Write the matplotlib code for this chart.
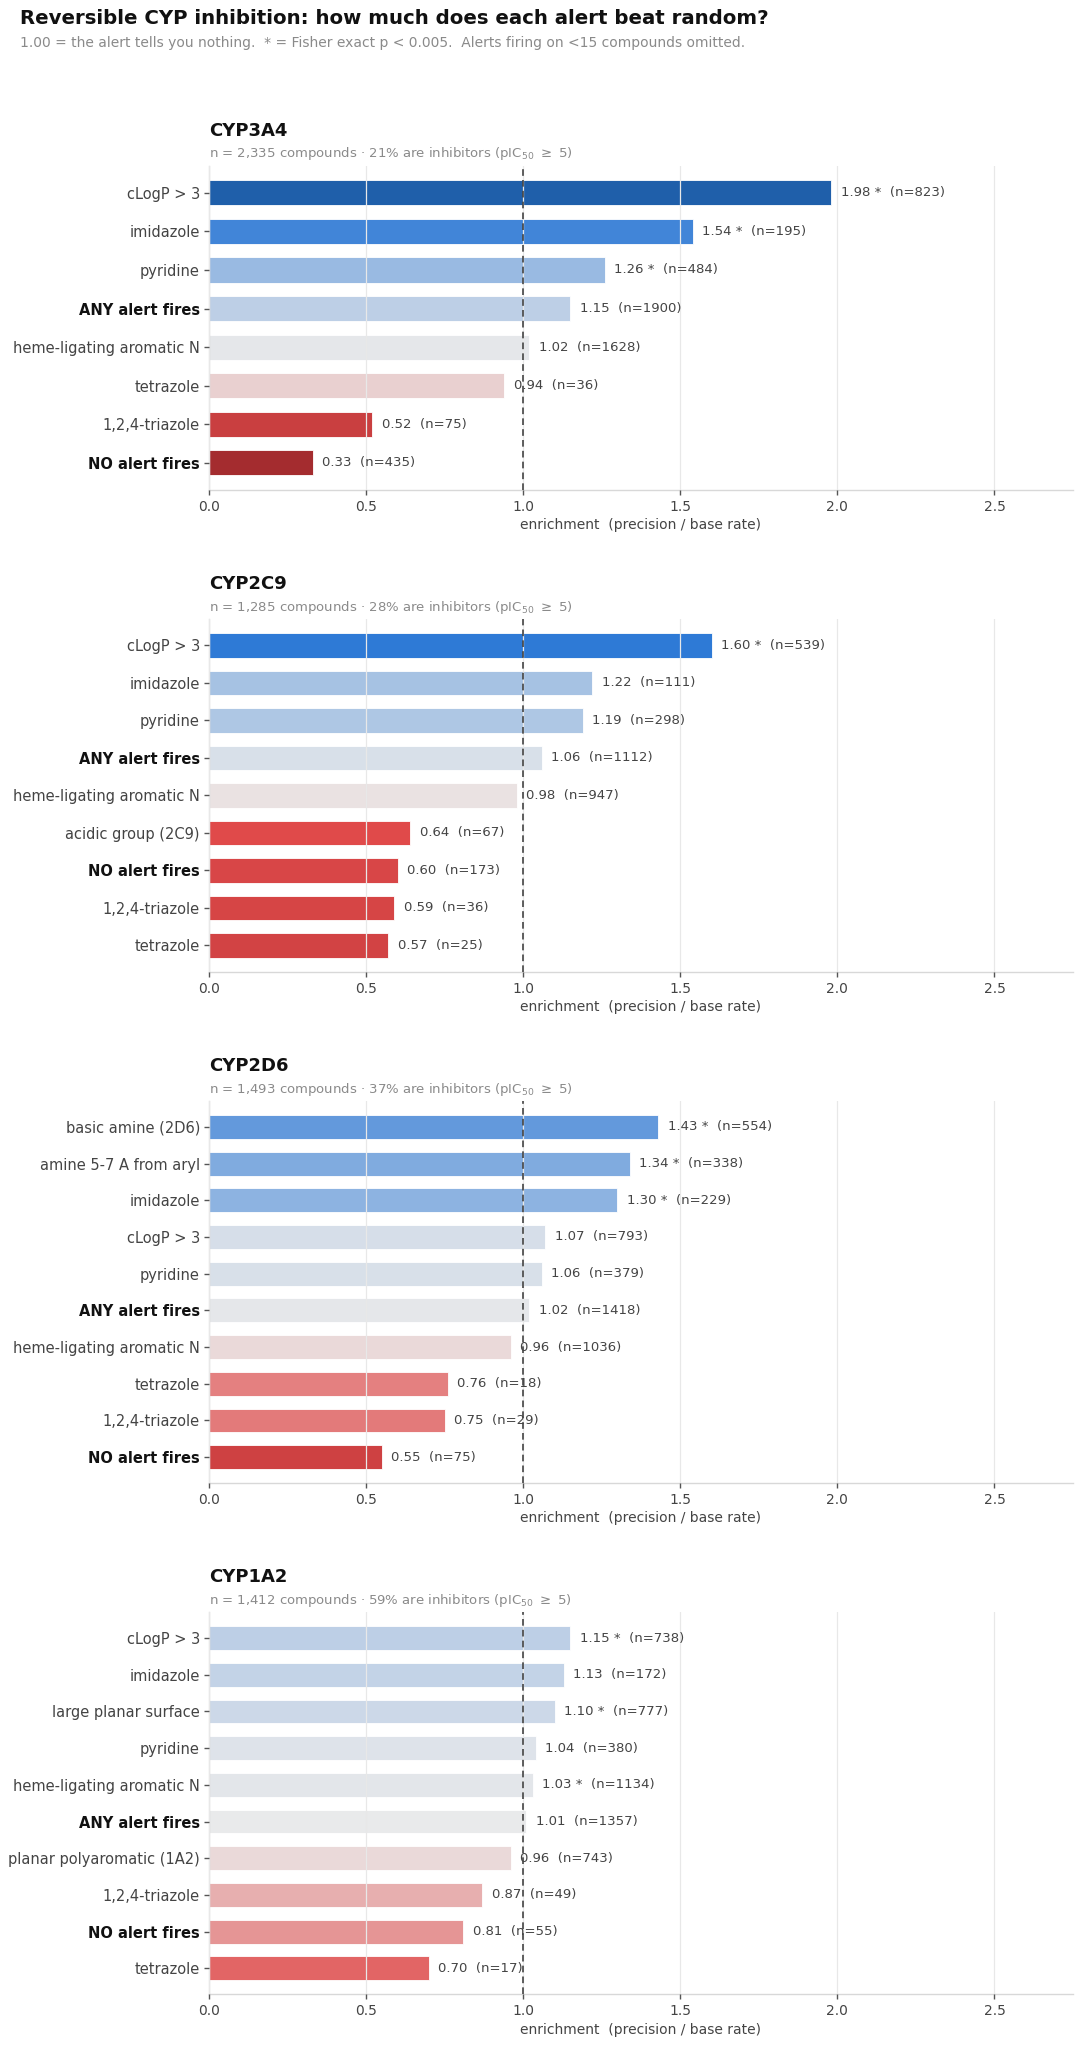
import numpy as np
import matplotlib
matplotlib.use("Agg")
import matplotlib.pyplot as plt
from matplotlib.colors import LinearSegmentedColormap, Normalize

# ---------------- data ----------------
panels = ["CYP3A4", "CYP2C9", "CYP2D6", "CYP1A2"]
n_compounds = [2335, 1285, 1493, 1412]
pct_inhib = [21, 28, 37, 59]

labels_3a4 = ["cLogP > 3", "imidazole", "pyridine", "ANY alert fires",
              "heme-ligating aromatic N", "tetrazole", "1,2,4-triazole", "NO alert fires"]
enrich_3a4 = [1.98, 1.54, 1.26, 1.15, 1.02, 0.94, 0.52, 0.33]
nfire_3a4 = [823, 195, 484, 1900, 1628, 36, 75, 435]
sig_3a4 = [True, True, True, False, False, False, False, False]

labels_2c9 = ["cLogP > 3", "imidazole", "pyridine", "ANY alert fires",
              "heme-ligating aromatic N", "acidic group (2C9)", "NO alert fires",
              "1,2,4-triazole", "tetrazole"]
enrich_2c9 = [1.60, 1.22, 1.19, 1.06, 0.98, 0.64, 0.60, 0.59, 0.57]
nfire_2c9 = [539, 111, 298, 1112, 947, 67, 173, 36, 25]
sig_2c9 = [True, False, False, False, False, False, False, False, False]

labels_2d6 = ["basic amine (2D6)", "amine 5-7 A from aryl", "imidazole", "cLogP > 3",
              "pyridine", "ANY alert fires", "heme-ligating aromatic N", "tetrazole",
              "1,2,4-triazole", "NO alert fires"]
enrich_2d6 = [1.43, 1.34, 1.30, 1.07, 1.06, 1.02, 0.96, 0.76, 0.75, 0.55]
nfire_2d6 = [554, 338, 229, 793, 379, 1418, 1036, 18, 29, 75]
sig_2d6 = [True, True, True, False, False, False, False, False, False, False]

labels_1a2 = ["cLogP > 3", "imidazole", "large planar surface", "pyridine",
              "heme-ligating aromatic N", "ANY alert fires", "planar polyaromatic (1A2)",
              "1,2,4-triazole", "NO alert fires", "tetrazole"]
enrich_1a2 = [1.15, 1.13, 1.10, 1.04, 1.03, 1.01, 0.96, 0.87, 0.81, 0.70]
nfire_1a2 = [738, 172, 777, 380, 1134, 1357, 743, 49, 55, 17]
sig_1a2 = [True, False, True, False, True, False, False, False, False, False]

all_labels = [labels_3a4, labels_2c9, labels_2d6, labels_1a2]
all_enrich = [enrich_3a4, enrich_2c9, enrich_2d6, enrich_1a2]
all_nfire = [nfire_3a4, nfire_2c9, nfire_2d6, nfire_1a2]
all_sig = [sig_3a4, sig_2c9, sig_2d6, sig_1a2]

# ---------------- style ----------------
plt.rcParams['font.family'] = ['DejaVu Sans']
vmin, vmax = 0.3, 2.0
def pos(v):
    return (v - vmin) / (vmax - vmin)
cmap = LinearSegmentedColormap.from_list("enr", [
    (0.0, "#9e282b"), (pos(0.33), "#a52d2f"), (pos(0.64), "#e04a4a"),
    (pos(1.0), "#ebebeb"), (pos(1.6), "#2e7ad6"), (pos(1.98), "#1f5faa"), (1.0, "#1e5da8")])
norm = Normalize(vmin=vmin, vmax=vmax)

W, H = 1082, 2048
fig = plt.figure(figsize=(W / 100, H / 100), dpi=100)

ratios = [len(l) + 3.14 for l in all_labels]
gs = fig.add_gridspec(4, 1, height_ratios=ratios, left=209 / W, right=1073 / W,
                      top=1 - 166 / H, bottom=1 - 1994 / H, hspace=0.36)

fig.text(20 / W, 1 - 9 / H, "Reversible CYP inhibition: how much does each alert beat random?",
         fontsize=14.2, fontweight="bold", ha="left", va="top", color="#111111")
fig.text(20 / W, 1 - 43 / H,
         "1.00 = the alert tells you nothing.  * = Fisher exact p < 0.005.  Alerts firing on <15 compounds omitted.",
         fontsize=10, ha="left", va="center", color="#8a8a8a")

for i, name in enumerate(panels):
    ax = fig.add_subplot(gs[i])
    labs, enr, nf, sg = all_labels[i], all_enrich[i], all_nfire[i], all_sig[i]
    y = np.arange(len(labs))
    cols = cmap(norm(np.array(enr)))
    ax.barh(y, enr, height=0.65, color=cols, edgecolor="white", linewidth=0.6, zorder=1)
    for yy, e, n, s in zip(y, enr, nf, sg):
        txt = f"{e:.2f}" + (" *" if s else "") + f"  (n={n})"
        ax.text(e + 0.03, yy, txt, va="center", ha="left", fontsize=9.5, color="#444444", zorder=4)
    ax.axvline(1.0, color="#444444", lw=1.2, ls=(0, (4, 2.5)), zorder=3)
    ax.set_xlim(0, 2.75)
    ax.set_ylim(len(labs) - 1 + 0.7, -0.7)
    ax.set_xticks([0, 0.5, 1.0, 1.5, 2.0, 2.5])
    ax.set_xticklabels(["0.0", "0.5", "1.0", "1.5", "2.0", "2.5"])
    ax.set_yticks(y)
    ax.set_yticklabels(labs)
    for tl in ax.get_yticklabels():
        if tl.get_text() in ("ANY alert fires", "NO alert fires"):
            tl.set_fontweight("bold")
            tl.set_color("#111111")
        else:
            tl.set_color("#444444")
    ax.tick_params(axis="y", labelsize=10.5, length=3.5, width=1, color="#555555", pad=3)
    ax.tick_params(axis="x", labelsize=10, length=3.5, width=1, color="#555555", labelcolor="#444444", pad=4)
    ax.set_axisbelow(False)
    ax.xaxis.grid(True, color="#e8e8e8", lw=0.9, zorder=2)
    ax.yaxis.grid(False)
    for sp in ("top", "right"):
        ax.spines[sp].set_visible(False)
    for sp in ("left", "bottom"):
        ax.spines[sp].set_color("#d8d8d8")
        ax.spines[sp].set_linewidth(1.0)
    ax.set_xlabel("enrichment  (precision / base rate)", fontsize=10, color="#444444", labelpad=3)
    ax.annotate(name, xy=(0, 1), xycoords="axes fraction", xytext=(0, 35),
                textcoords="offset pixels", ha="left", va="center",
                fontsize=13, fontweight="bold", color="#111111")
    ax.annotate(f"n = {n_compounds[i]:,} compounds \u00b7 {pct_inhib[i]}% are inhibitors (pIC$_{{50}}$ $\\geq$ 5)",
                xy=(0, 1), xycoords="axes fraction", xytext=(0, 12),
                textcoords="offset pixels", ha="left", va="center",
                fontsize=9.5, color="#8a8a8a")

fig.savefig("out.png", dpi=100, facecolor="white")
